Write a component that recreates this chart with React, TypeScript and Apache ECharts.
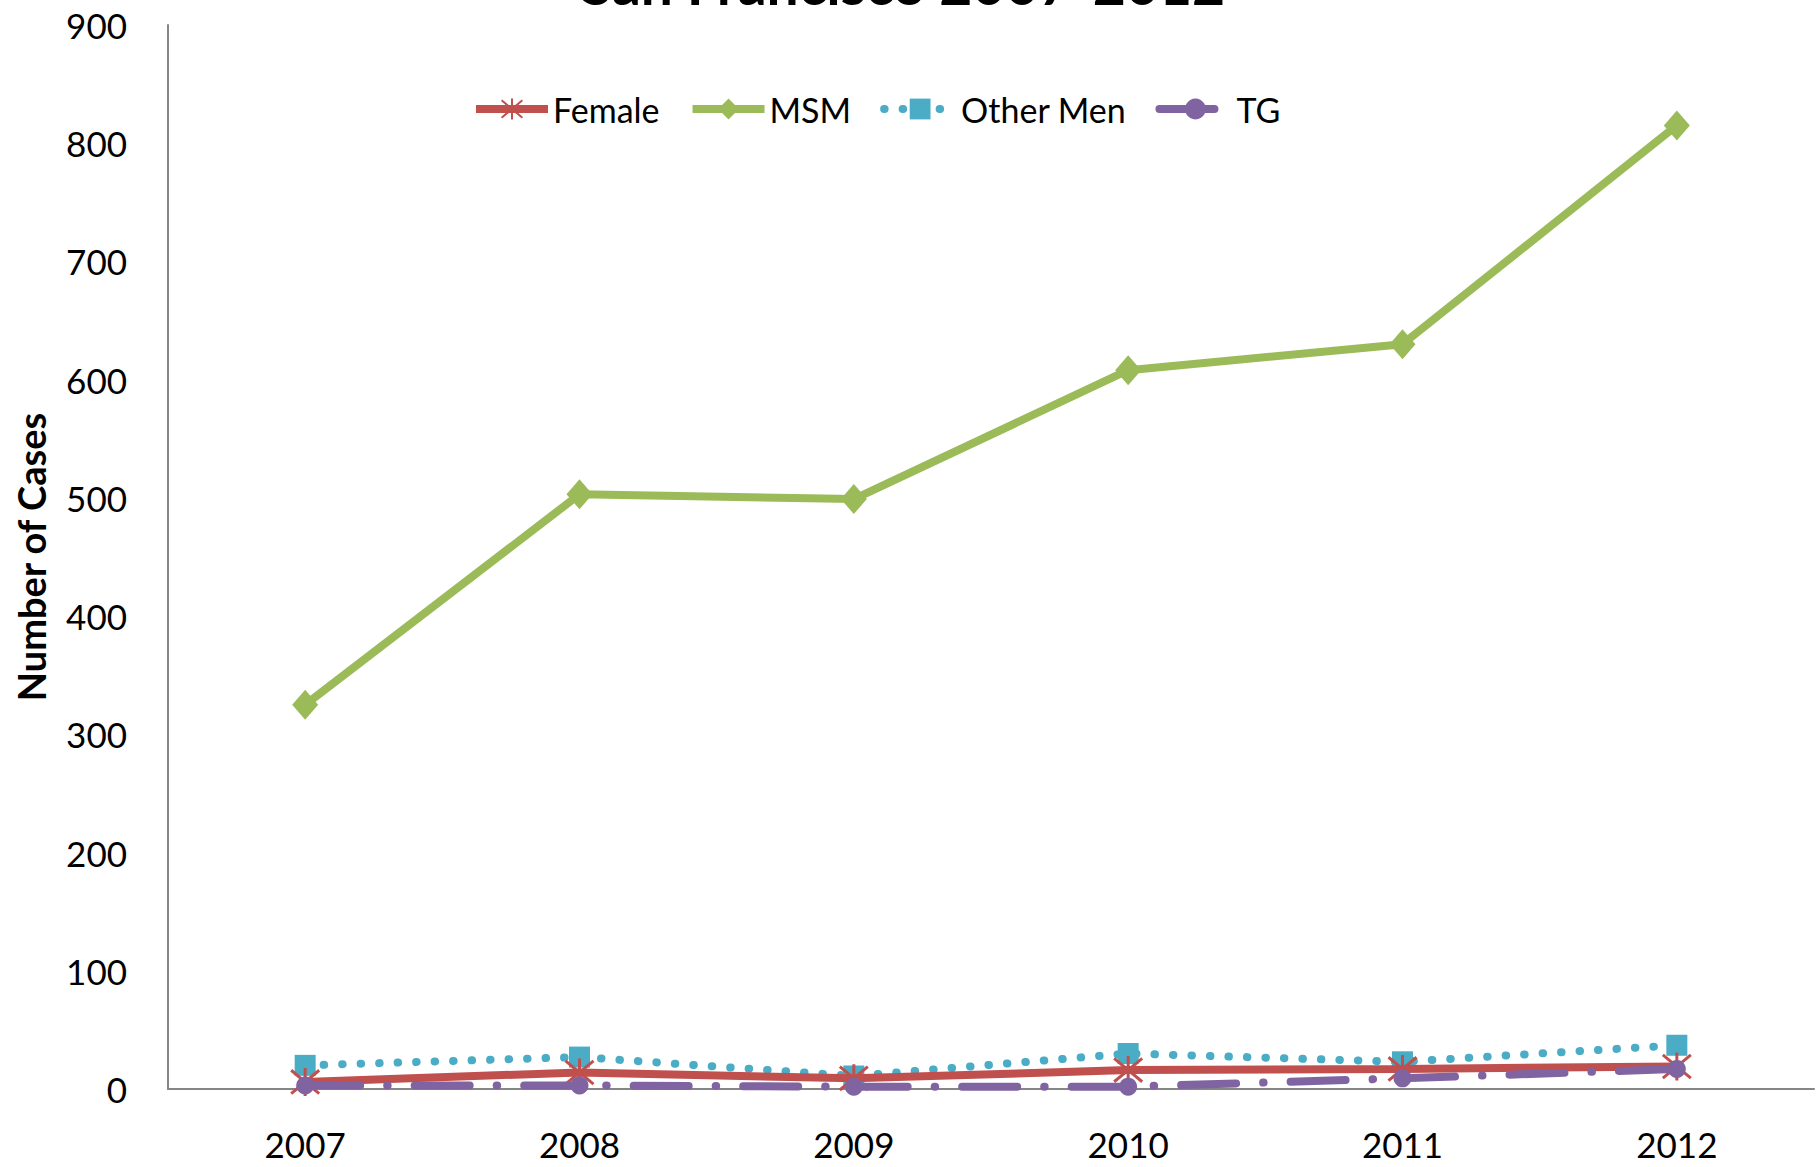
import React, { useEffect, useRef } from "react";
import * as echarts from "echarts";

const years = ["2007", "2008", "2009", "2010", "2011", "2012"];
const female = [6, 14, 9, 16, 17, 19];
const msm = [325, 503, 499, 608, 630, 815];
const otherMen = [20, 27, 11, 30, 23, 37];
const tg = [3, 3, 2, 2, 9, 17];
const yTicks = { min: 0, max: 900, interval: 100 };

const FONT = "Lato";
const asterisk = "path://M0,0 L10,10 M10,0 L0,10 M5,-1 L5,11";

export default function App() {
  const ref = useRef<HTMLDivElement>(null);
  useEffect(() => {
    if (!ref.current) return;
    const chart = echarts.init(ref.current, undefined, { renderer: "svg" });
    chart.setOption({
      animation: false,
      backgroundColor: "#ffffff",
      textStyle: { fontFamily: FONT },
      graphic: [
        {
          type: "text",
          x: 903,
          y: 11,
          style: {
            text: "San Francisco 2007-2012",
            fontFamily: FONT,
            fontWeight: "bold",
            fontSize: 57,
            fill: "#000",
            textAlign: "center",
            textVerticalAlign: "bottom",
          },
        },
      ],
      legend: {
        left: 467,
        top: 87,
        itemWidth: 72,
        itemHeight: 26,
        itemGap: 29,
        textStyle: { fontFamily: FONT, fontSize: 34, color: "#000" },
        lineStyle: { width: 8 },
        data: ["Female", "MSM", "Other Men", "TG"],
      },
      grid: { left: 168, right: 2, top: 25, bottom: 78, containLabel: false, outerBoundsMode: "none" },
      xAxis: {
        type: "category",
        data: years,
        boundaryGap: true,
        axisLine: { show: true, lineStyle: { color: "#868686", width: 2 } },
        axisTick: { show: false },
        axisLabel: { fontFamily: FONT, fontSize: 35, color: "#000", margin: 37 },
      },
      yAxis: {
        type: "value",
        min: yTicks.min,
        max: yTicks.max,
        interval: yTicks.interval,
        name: "Number of Cases",
        nameLocation: "middle",
        nameGap: 118,
        nameTextStyle: { fontFamily: FONT, fontSize: 38, fontWeight: "bold", color: "#000" },
        axisLine: { show: true, lineStyle: { color: "#868686", width: 2 } },
        axisTick: { show: false },
        splitLine: { show: false },
        axisLabel: { fontFamily: FONT, fontSize: 35, color: "#000", margin: 41 },
      },
      series: [
        {
          name: "Female",
          type: "line",
          data: female,
          symbol: asterisk,
          symbolSize: 28,
          lineStyle: { color: "#C0504D", width: 8 },
          itemStyle: { color: "#C0504D", borderColor: "#C0504D", borderWidth: 3 },
          z: 3,
        },
        {
          name: "MSM",
          type: "line",
          data: msm,
          symbol: "diamond",
          symbolSize: [26, 30],
          lineStyle: { color: "#9BBB59", width: 8 },
          itemStyle: { color: "#9BBB59" },
          z: 2,
        },
        {
          name: "Other Men",
          type: "line",
          data: otherMen,
          symbol: "rect",
          symbolSize: 21,
          lineStyle: { color: "#4BACC6", width: 8, type: [0.5, 18], cap: "round" },
          itemStyle: { color: "#4BACC6" },
          z: 2,
        },
        {
          name: "TG",
          type: "line",
          data: tg,
          symbol: "circle",
          symbolSize: 18,
          lineStyle: { color: "#8064A2", width: 8, type: [55, 27, 0.5, 27], cap: "round" },
          itemStyle: { color: "#8064A2" },
          z: 4,
        },
      ],
    });
    return () => chart.dispose();
  }, []);
  return <div ref={ref} style={{ width: 1816, height: 1167, position: "absolute", left: 0, top: 0 }} />;
}
